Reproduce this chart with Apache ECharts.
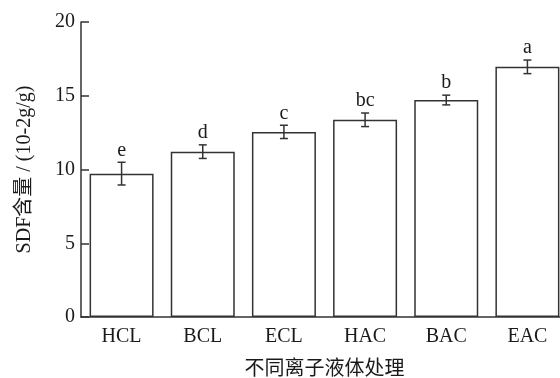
<!DOCTYPE html>
<html><head><meta charset="utf-8">
<script src="https://cdn.jsdelivr.net/npm/echarts@6/dist/echarts.min.js"></script>
<style>html,body{margin:0;padding:0;background:#fff}#c{width:560px;height:378px}</style>
</head><body><div id="c"></div>
<script>
var categories = ['HCL', 'BCL', 'ECL', 'HAC', 'BAC', 'EAC'];
var values = [9.72, 11.21, 12.55, 13.37, 14.71, 16.96];
var errors = [0.77, 0.46, 0.45, 0.46, 0.33, 0.46];
var letters = ['e', 'd', 'c', 'bc', 'b', 'a'];
var yTicks = [0, 5, 10, 15, 20];

var FONT = '"Liberation Serif", "Times New Roman", serif';
var INK = '#1a1a1a';
var chart = echarts.init(document.getElementById('c'));
var errData = categories.map(function (c, i) { return [i, values[i], errors[i], letters[i]]; });

chart.setOption({
  animation: false,
  grid: { left: 81, right: -8, top: 22, bottom: 61, containLabel: false, outerBoundsMode: 'none' },
  xAxis: {
    type: 'category', data: categories,
    name: '不同离子液体处理', nameLocation: 'middle', nameGap: 40,
    nameTextStyle: { fontFamily: '"Noto Sans CJK SC", sans-serif', fontSize: 20, color: INK },
    axisLine: { lineStyle: { color: '#333', width: 1.5 } },
    axisTick: { inside: true, length: 5, lineStyle: { color: '#333', width: 1.5 } },
    axisLabel: { fontFamily: FONT, fontSize: 20, color: INK, margin: 10 }
  },
  yAxis: {
    type: 'value', min: yTicks[0], max: yTicks[yTicks.length - 1], interval: 5,
    name: 'SDF含量 / (10-2g/g)', nameLocation: 'middle', nameGap: 46, nameRotate: 90,
    nameTextStyle: { fontFamily: FONT + ', "Noto Sans CJK SC"', fontSize: 20, color: INK },
    axisLine: { show: true, lineStyle: { color: '#333', width: 1.5 } },
    axisTick: { show: true, inside: true, length: 8, lineStyle: { color: '#333', width: 1.5 } },
    axisLabel: { fontFamily: FONT, fontSize: 20, color: INK, margin: 6 },
    splitLine: { show: false }
  },
  series: [
    {
      type: 'bar', data: values, barWidth: 64,
      itemStyle: { color: '#fff', borderColor: '#333', borderWidth: 1.5 }
    },
    {
      type: 'custom', data: errData, z: 10,
      renderItem: function (params, api) {
        var x = api.value(0), v = api.value(1), e = api.value(2);
        var hi = api.coord([x, v + e]), lo = api.coord([x, v - e]);
        var cw = 4;
        return {
          type: 'group',
          children: [
            { type: 'line', shape: { x1: hi[0], y1: hi[1], x2: lo[0], y2: lo[1] }, style: { stroke: '#333', lineWidth: 1.5 } },
            { type: 'line', shape: { x1: hi[0] - cw, y1: hi[1], x2: hi[0] + cw, y2: hi[1] }, style: { stroke: '#333', lineWidth: 1.5 } },
            { type: 'line', shape: { x1: lo[0] - cw, y1: lo[1], x2: lo[0] + cw, y2: lo[1] }, style: { stroke: '#333', lineWidth: 1.5 } },
            { type: 'text', style: { text: letters[params.dataIndex], x: hi[0], y: hi[1] - 2, align: 'center', verticalAlign: 'bottom', font: '20px ' + FONT, fill: INK } }
          ]
        };
      }
    }
  ]
});
</script></body></html>
